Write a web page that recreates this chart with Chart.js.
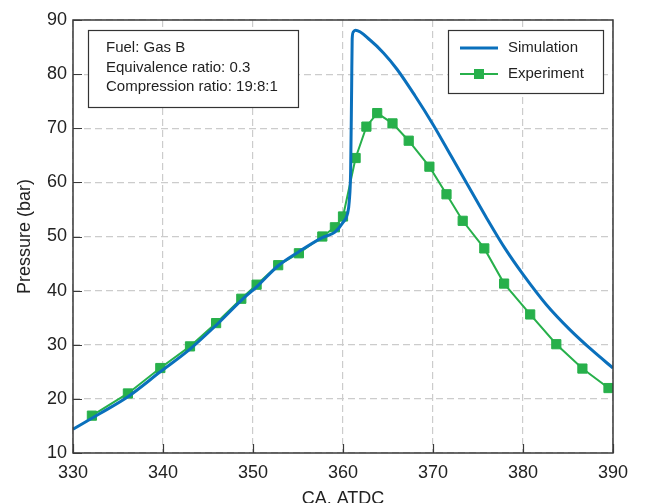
<!DOCTYPE html>
<html>
<head>
<meta charset="utf-8">
<script src="https://cdn.jsdelivr.net/npm/chart.js@4.4.1/dist/chart.umd.min.js"></script>
<style>
  html, body { margin: 0; padding: 0; background: #ffffff; }
  #wrap { width: 647px; height: 503px; }
</style>
</head>
<body>
<div id="wrap"><canvas id="c" width="647" height="503"></canvas></div>
<script>
// ---- data ----
const simAngle = [330, 333, 336.1, 339.7, 343.0, 345.9, 348.7, 350.4, 352.8, 355.1, 357.7, 359.1, 360.0, 360.5, 360.7, 360.85, 360.96, 361.02, 361.15, 361.4, 363.0, 364.5, 366.0, 368.0, 370.0, 372.0, 374.0, 376.0, 378.0, 380.0, 382.6, 385.2, 387.8, 390.0];
const simPressure = [14.4, 17.3, 20.4, 25.0, 29.2, 33.6, 38.2, 40.7, 44.6, 47.2, 49.8, 50.8, 52.6, 54.2, 56.6, 62.2, 77.5, 86.5, 87.8, 88.1, 86.3, 83.9, 80.9, 76.0, 70.7, 64.9, 59.1, 53.3, 47.8, 43.0, 37.4, 32.8, 28.8, 25.7];
const expAngle = [332.1, 336.1, 339.7, 343.0, 345.9, 348.7, 350.4, 352.8, 355.1, 357.7, 359.1, 360.0, 361.4, 362.6, 363.8, 365.5, 367.3, 369.6, 371.5, 373.3, 375.7, 377.9, 380.8, 383.7, 386.6, 389.5];
const expPressure = [16.9, 21.0, 25.7, 29.7, 34.0, 38.5, 41.1, 44.7, 46.9, 50.0, 51.7, 53.7, 64.5, 70.3, 72.8, 70.9, 67.7, 62.9, 57.8, 52.9, 47.8, 41.3, 35.6, 30.1, 25.6, 22.0];
const seriesNames = ["Simulation", "Experiment"];
const xTicks = [330, 340, 350, 360, 370, 380, 390];
const yTicks = [10, 20, 30, 40, 50, 60, 70, 80, 90];
const infoLines = ["Fuel: Gas B", "Equivalence ratio: 0.3", "Compression ratio: 19:8:1"];
const xTitle = "CA. ATDC";
const yTitle = "Pressure (bar)";

const BLUE = "#0a70bc";
const GREEN = "#27b04b";
const FONT = "'Liberation Sans', Arial, Helvetica, sans-serif";

const simData = simAngle.map((x, i) => ({ x: x, y: simPressure[i] }));
const expData = expAngle.map((x, i) => ({ x: x, y: expPressure[i] }));

const decor = {
  id: 'decor',
  afterDraw(chart) {
    const ctx = chart.ctx;
    const a = chart.chartArea;
    const xs = chart.scales.x, ys = chart.scales.y;
    ctx.save();
    // frame
    ctx.strokeStyle = "#3a3a3a";
    ctx.lineWidth = 1.5;
    ctx.setLineDash([]);
    ctx.strokeRect(a.left, a.top, a.right - a.left, a.bottom - a.top);
    // inward ticks
    ctx.lineWidth = 1.2;
    ctx.beginPath();
    xTicks.forEach(v => {
      const px = Math.round(xs.getPixelForValue(v)) + 0.5;
      ctx.moveTo(px, a.bottom); ctx.lineTo(px, a.bottom - 9);
    });
    yTicks.forEach(v => {
      const py = Math.round(ys.getPixelForValue(v)) + 0.5;
      ctx.moveTo(a.left, py); ctx.lineTo(a.left + 9, py);
    });
    ctx.stroke();

    // info box
    ctx.fillStyle = "#ffffff";
    ctx.fillRect(88, 30, 210, 77);
    ctx.strokeStyle = "#333333";
    ctx.lineWidth = 1.2;
    ctx.strokeRect(88.5, 30.5, 210, 77);
    ctx.fillStyle = "#222222";
    ctx.font = "15px " + FONT;
    ctx.textBaseline = "middle";
    ctx.textAlign = "left";
    infoLines.forEach((t, i) => ctx.fillText(t, 106, 48 + i * 19.5));

    // legend
    ctx.fillStyle = "#ffffff";
    ctx.fillRect(448, 30, 155, 63);
    ctx.strokeRect(448.5, 30.5, 155, 63);
    const ds = chart.data.datasets;
    ctx.strokeStyle = ds[0].borderColor;
    ctx.lineWidth = 3;
    ctx.beginPath(); ctx.moveTo(460, 48); ctx.lineTo(498, 48); ctx.stroke();
    ctx.strokeStyle = ds[1].borderColor;
    ctx.lineWidth = 2;
    ctx.beginPath(); ctx.moveTo(460, 74); ctx.lineTo(498, 74); ctx.stroke();
    ctx.fillStyle = ds[1].pointBackgroundColor;
    ctx.fillRect(474, 69, 10, 10);
    ctx.fillStyle = "#222222";
    ctx.font = "15px " + FONT;
    ctx.fillText(ds[0].label, 508, 48);
    ctx.fillText(ds[1].label, 508, 74);
    ctx.restore();
  }
};

new Chart(document.getElementById('c'), {
  type: 'scatter',
  data: {
    datasets: [
      {
        label: seriesNames[0],
        data: simData,
        showLine: true,
        borderColor: BLUE,
        backgroundColor: BLUE,
        borderWidth: 3,
        pointRadius: 0,
        cubicInterpolationMode: 'monotone',
        order: 1
      },
      {
        label: seriesNames[1],
        data: expData,
        showLine: true,
        borderColor: GREEN,
        backgroundColor: GREEN,
        pointBackgroundColor: GREEN,
        pointBorderColor: GREEN,
        borderWidth: 2,
        pointStyle: 'rect',
        pointRadius: 6.5,
        pointBorderWidth: 1,
        tension: 0,
        order: 2
      }
    ]
  },
  options: {
    responsive: false,
    animation: false,
    events: [],
    layout: { padding: { left: 0, right: 34, top: 20, bottom: 0 } },
    plugins: { legend: { display: false }, tooltip: { enabled: false } },
    scales: {
      x: {
        type: 'linear',
        min: 330, max: 390,
        afterFit: s => { s.height = 50; },
        afterBuildTicks: s => { s.ticks = xTicks.map(v => ({ value: v })); },
        grid: { color: "#cccccc", lineWidth: 1.2, drawTicks: false },
        border: { display: false, dash: [7, 4] },
        ticks: { color: "#222222", font: { family: FONT, size: 18 }, padding: 9, maxRotation: 0 },
        title: { display: true, text: xTitle, color: "#222222", font: { family: FONT, size: 18 }, padding: { top: 0, bottom: -7 } }
      },
      y: {
        type: 'linear',
        min: 10, max: 90,
        afterFit: s => { s.width = 73; },
        afterBuildTicks: s => { s.ticks = yTicks.map(v => ({ value: v })); },
        grid: { color: "#cccccc", lineWidth: 1.2, drawTicks: false },
        border: { display: false, dash: [7, 4] },
        ticks: { color: "#222222", font: { family: FONT, size: 18 }, padding: 6 },
        title: { display: true, text: yTitle, color: "#222222", font: { family: FONT, size: 18 }, padding: { top: 14, bottom: 0 } }
      }
    }
  },
  plugins: [decor]
});
</script>
</body>
</html>
